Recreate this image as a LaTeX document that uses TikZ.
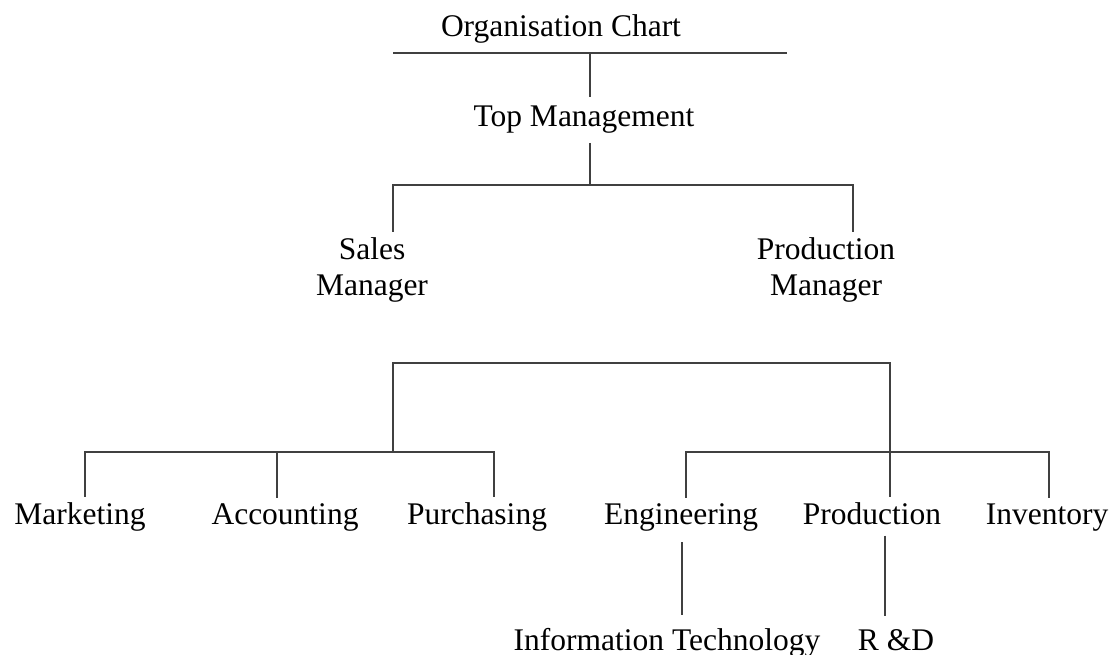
\documentclass[tikz,border=0pt]{standalone}
\usepackage{fontspec}
\setmainfont{Liberation Serif}
\begin{document}
\begin{tikzpicture}[x=1pt,y=-1pt,
    every node/.style={anchor=base,inner xsep=0pt,inner ysep=5pt,
      font=\fontsize{31.5}{36}\selectfont},
    link/.style={draw=black!75,line width=1.3pt}]
  \useasboundingbox (0,0) rectangle (1115,655);
  \draw
    (561,37) node (chart){Organisation Chart}
    (584,127) node[inner ysep=9pt] (top){Top Management}
    (372,295) node[align=center] (sales){Sales\\Manager}
    (826,295) node[align=center] (prodmgr){Production\\Manager}
    (80,524) node (mkt){Marketing}
    (285,524) node (acc){Accounting}
    (477,524) node (pur){Purchasing}
    (681,524) node (eng){Engineering}
    (872,524) node (prod){Production}
    (1047,524) node (inv){Inventory}
    (667,650) node[inner ysep=13pt] (it){Information Technology}
    (896,650) node[inner ysep=13pt] (rd){R \&D};
  \coordinate (barL) at (393,53);
  \coordinate (barR) at (787,53);
  \coordinate (barM) at (590,53);
  \coordinate (mgrs) at (590,185);
  \coordinate (grpT) at (393,363);
  \coordinate (grpL) at (393,452);
  \coordinate (grpR) at (890,452);
  \begin{scope}[link]
    \draw (barL) -- (barR);
    \draw (barM) -- (barM |- top.north);
    \draw (mgrs |- top.south) -- (mgrs);
    \draw ([xshift=21pt]sales.north) |- (mgrs) -| ([xshift=27pt]prodmgr.north);
    \draw (grpL) -- (grpT) -| ([xshift=18pt]prod.north);
    \draw ([xshift=5pt]mkt.north) |- (grpL) -| ([xshift=17pt]pur.north);
    \draw ([xshift=-8pt]acc.north) -- ([xshift=-8pt]acc.north |- grpL);
    \draw ([xshift=5pt]eng.north) |- (grpR) -| ([xshift=2pt]inv.north);
    \draw ([xshift=1pt,yshift=-6pt]eng.south) -- ([xshift=1pt]eng.south |- it.north);
    \draw ([xshift=13pt,yshift=-6pt]prod.south) -- ([xshift=13pt]prod.south |- rd.north);
  \end{scope}
\end{tikzpicture}
\end{document}
